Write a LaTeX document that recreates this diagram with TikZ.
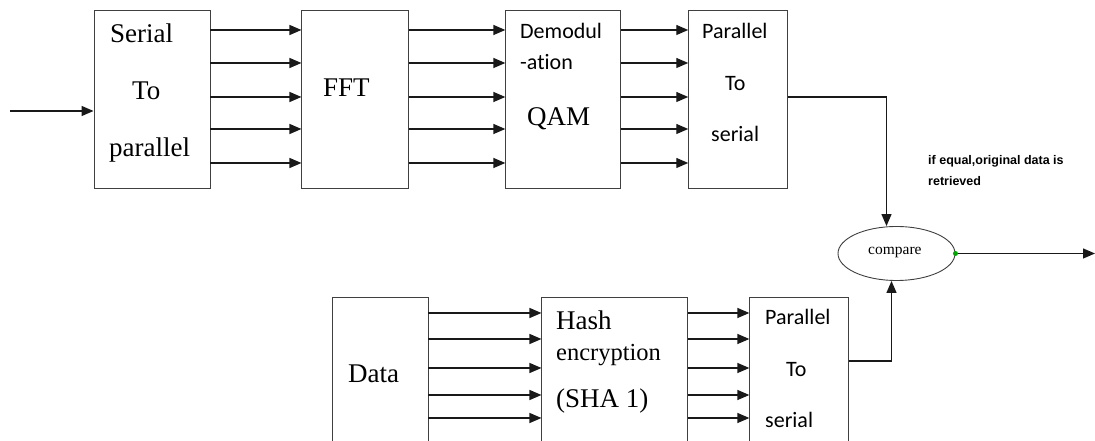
\documentclass[tikz,border=0pt]{standalone}
\usepackage{fontspec}
\setmainfont{Liberation Serif}
\newfontfamily\calibfont[Ligatures=NoCommon]{Carlito}
\newfontfamily\arialfont{Liberation Sans}
\usetikzlibrary{positioning, arrows.meta, shapes.geometric}

\begin{document}
\begin{tikzpicture}[x=1pt, y=1pt, block/.style={rectangle, draw=black!75, line width=0.9pt, inner sep=0pt}, topblock/.style={block, minimum height=178pt}, lowblock/.style={block, minimum height=150pt}, boxtext/.style={anchor=base west, inner sep=0pt, font=\fontsize{27}{30}\selectfont}, sboxtext/.style={anchor=base west, inner sep=0pt, font=\calibfont\fontsize{22}{26}\selectfont}, link/.style={-{Triangle[length=12pt, width=10pt]}, line width=1.3pt, draw=black!90}]

    \useasboundingbox (0,0) rectangle (1095,441);

    % Blocks
    \node[topblock, minimum width=116pt] (s2p)                        at (152,342) {};
    \node[topblock, minimum width=107pt] (fft)    [right=91pt of s2p]   {};
    \node[topblock, minimum width=115pt] (demod)  [right=96pt of fft]   {};
    \node[topblock, minimum width=99pt]  (p2s)    [right=67pt of demod] {};
    \node[lowblock, minimum width=96pt]  (data)                       at (380,69) {};
    \node[lowblock, minimum width=146pt] (hash)   [right=113pt of data] {};
    \node[lowblock, minimum width=99pt]  (p2slow) [right=61pt of hash]  {};
    \node[ellipse, draw=black!75, line width=0.9pt, minimum width=117pt, minimum height=54pt, inner sep=0pt] (cmp) at (896.5,187.5) {};
    \node[circle, fill=green!65!black, inner sep=0pt, minimum size=5pt] (dot) at (cmp.east) {};
    \coordinate (in)  at (10,330);
    \coordinate (out) at (1095,187.5);

    % Labels
    \node[boxtext] (t1) at (110,398) {Serial};
    \node[boxtext] (t2) at (132,341) {To};
    \node[boxtext] (t3) at (109,284) {parallel};
    \node[boxtext] (t4) at (323,344) {FFT};
    \node[sboxtext] (t5) at (520,402) {Demodul};
    \node[sboxtext] (t6) at (520,371) {-ation};
    \node[boxtext] (t7) at (527,315) {QAM};
    \node[sboxtext] (t8) at (702,402) {Parallel};
    \node[sboxtext] (t9) at (725,350) {To};
    \node[sboxtext] (t10) at (711,299) {serial};
    \node[boxtext] (t11) at (348,58) {Data};
    \node[boxtext] (t12) at (556,111) {Hash};
    \node[boxtext, font=\fontsize{24.5}{28}\selectfont] (t13) at (556,80) {encryption};
    \node[boxtext] (t14) at (556,33) {(SHA 1)};
    \node[sboxtext] (t15) at (765,116) {Parallel};
    \node[sboxtext] (t16) at (786,64) {To};
    \node[sboxtext] (t17) at (765,13) {serial};
    \node[boxtext, font=\fontsize{15.5}{18}\selectfont] (t18) at (868,186) {compare};
    \node[anchor=base west, inner sep=0pt, align=left, font=\arialfont\bfseries\fontsize{12.5}{21}\selectfont] (note) at (928,255) {if equal,original data is\\retrieved};

    % Lines ---------------
    \draw[link] (in) -- (s2p.west |- in);
    \foreach \y in {411,378,344,312,278} {
        \draw[link] (s2p.east |- 0,\y) -- (fft.west |- 0,\y);
        \draw[link] (fft.east |- 0,\y) -- (demod.west |- 0,\y);
        \draw[link] (demod.east |- 0,\y) -- (p2s.west |- 0,\y);
    }
    \foreach \y in {128,102,73,46,23} {
        \draw[link] (data.east |- 0,\y) -- (hash.west |- 0,\y);
        \draw[link] (hash.east |- 0,\y) -- (p2slow.west |- 0,\y);
    }
    \draw[link] (p2s.east |- 0,344) -| ([xshift=-10pt]cmp.north);
    \draw[link] (p2slow.east |- 0,80) -| ([xshift=-5pt]cmp.south);
    \draw[link] (dot) -- (out);

\end{tikzpicture}
\end{document}
